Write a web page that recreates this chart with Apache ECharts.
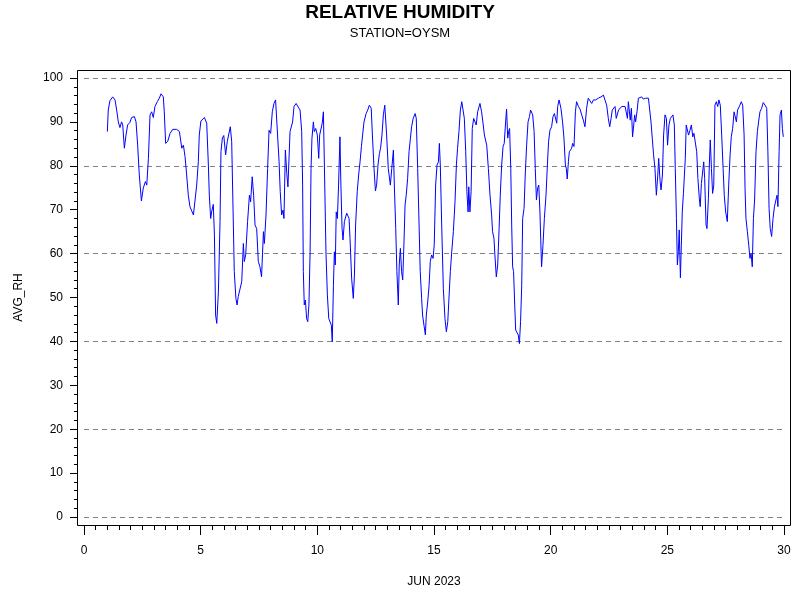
<!DOCTYPE html>
<html>
<head>
<meta charset="utf-8">
<title>RELATIVE HUMIDITY</title>
<script src="https://cdn.jsdelivr.net/npm/echarts@6.0.0/dist/echarts.min.js"></script>
<style>
    html, body { margin: 0; padding: 0; background: #fff; }
    #chart { width: 800px; height: 600px; }
</style>
</head>
<body>
<div id="chart"></div>
<script>
// day of month (June 2023)
var days = [
    1.00, 1.04, 1.11, 1.23, 1.33, 1.40, 1.47, 1.54, 1.61, 1.66, 1.73, 1.80, 1.87, 1.97,
    2.04, 2.16, 2.23, 2.30, 2.37, 2.46, 2.54, 2.63, 2.69, 2.76, 2.83, 2.90, 2.97,
    3.04, 3.14, 3.23, 3.30, 3.40, 3.44, 3.50, 3.59, 3.69, 3.80, 3.97,
    4.09, 4.19, 4.26, 4.33, 4.40, 4.47, 4.54, 4.61, 4.69, 4.76, 4.83, 4.90, 4.94,
    5.01, 5.09, 5.16, 5.26, 5.33, 5.37, 5.43, 5.47, 5.54, 5.59, 5.64, 5.69, 5.76, 5.83, 5.87, 5.93, 5.99,
    6.07, 6.14, 6.19, 6.27, 6.33, 6.39, 6.44, 6.51, 6.56, 6.61, 6.69, 6.76, 6.83, 6.87, 6.93,
    7.01, 7.09, 7.14, 7.21, 7.27, 7.33, 7.40, 7.47, 7.54, 7.61, 7.69, 7.73, 7.80, 7.87, 7.93,
    8.00, 8.07, 8.14, 8.21, 8.29, 8.36, 8.41, 8.47, 8.53, 8.57, 8.63, 8.69, 8.74, 8.83, 8.94,
    9.00, 9.09, 9.17, 9.26, 9.33, 9.37, 9.40, 9.44, 9.49, 9.54, 9.59, 9.64, 9.69, 9.73, 9.77, 9.83, 9.87, 9.93,
    10.00, 10.06, 10.10, 10.17, 10.21, 10.26, 10.31, 10.37, 10.43, 10.49, 10.54, 10.60, 10.64, 10.69, 10.73, 10.77, 10.81, 10.86, 10.91, 10.97,
    11.01, 11.06, 11.10, 11.16, 11.20, 11.26, 11.30, 11.36, 11.40, 11.47, 11.54, 11.59, 11.64, 11.71, 11.77, 11.83, 11.89, 11.94,
    12.00, 12.09, 12.16, 12.23, 12.27, 12.31, 12.36, 12.43, 12.49, 12.54, 12.60, 12.66, 12.71, 12.77, 12.83, 12.89, 12.97,
    13.04, 13.13, 13.19, 13.26, 13.30, 13.36, 13.41, 13.47, 13.51, 13.56, 13.61, 13.66, 13.71, 13.76, 13.81, 13.87, 13.93, 13.99,
    14.04, 14.11, 14.19, 14.24, 14.30, 14.36, 14.41, 14.47, 14.51, 14.57, 14.63, 14.67, 14.73, 14.79, 14.84, 14.90, 14.96,
    15.01, 15.07, 15.13, 15.19, 15.23, 15.27, 15.33, 15.40, 15.47, 15.53, 15.59, 15.64, 15.70, 15.76, 15.83, 15.90, 15.96,
    16.01, 16.07, 16.13, 16.19, 16.26, 16.30, 16.36, 16.41, 16.46, 16.49, 16.54, 16.59, 16.64, 16.70, 16.76, 16.81, 16.87, 16.93, 16.97,
    17.04, 17.11, 17.16, 17.20, 17.26, 17.33, 17.40, 17.47, 17.51, 17.57, 17.61, 17.67, 17.73, 17.79, 17.84, 17.90, 17.96,
    18.01, 18.07, 18.11, 18.16, 18.20, 18.24, 18.29, 18.33, 18.37, 18.41, 18.46, 18.50, 18.56, 18.61, 18.66, 18.71, 18.76, 18.80, 18.86, 18.91, 18.97,
    19.03, 19.09, 19.14, 19.19, 19.23, 19.29, 19.34, 19.39, 19.44, 19.49, 19.54, 19.59, 19.61, 19.67, 19.73, 19.80, 19.86, 19.91, 19.97,
    20.04, 20.10, 20.16, 20.21, 20.26, 20.30, 20.36, 20.40, 20.44, 20.51, 20.57, 20.63, 20.67, 20.71, 20.76, 20.80, 20.86, 20.90, 20.94,
    21.00, 21.06, 21.11, 21.19, 21.26, 21.33, 21.40, 21.47, 21.54, 21.61, 21.69, 21.76, 21.83, 21.93,
    22.04, 22.16, 22.26, 22.33, 22.40, 22.47, 22.53, 22.59, 22.64, 22.70, 22.76, 22.81, 22.87, 22.91, 22.97,
    23.04, 23.11, 23.19, 23.26, 23.29, 23.33, 23.37, 23.41, 23.46, 23.51, 23.56, 23.60, 23.64, 23.70, 23.76, 23.83, 23.90, 23.97,
    24.07, 24.19, 24.24, 24.30, 24.36, 24.41, 24.47, 24.53, 24.59, 24.63, 24.69, 24.73, 24.79, 24.84, 24.90, 24.96,
    25.01, 25.07, 25.13, 25.19, 25.24, 25.30, 25.34, 25.39, 25.43, 25.47, 25.51, 25.56, 25.60, 25.64, 25.69, 25.73, 25.77, 25.81, 25.86, 25.91, 25.97,
    26.03, 26.09, 26.14, 26.20, 26.26, 26.31, 26.37, 26.41, 26.46, 26.51, 26.56, 26.60, 26.66, 26.70, 26.76, 26.80, 26.84, 26.89, 26.94, 26.99,
    27.04, 27.10, 27.16, 27.21, 27.27, 27.33, 27.39, 27.44, 27.50, 27.57, 27.63, 27.69, 27.74, 27.80, 27.86, 27.91, 27.96,
    28.01, 28.07, 28.11, 28.17, 28.23, 28.29, 28.33, 28.37, 28.43, 28.49, 28.54, 28.59, 28.64, 28.69, 28.74, 28.80, 28.86, 28.91, 28.97,
    29.04, 29.11, 29.19, 29.26, 29.31, 29.36, 29.41, 29.47, 29.53, 29.59, 29.64, 29.70, 29.74, 29.79, 29.83, 29.89, 29.93, 29.97
];

// AVG_RH (%) at each of the days above
var avgRh = [
    87.8, 92.7, 94.8, 95.7, 95.0, 92.7, 90.0, 88.7, 90.0, 89.3, 84.0, 87.0, 89.3, 89.9,
    91.0, 91.2, 90.0, 84.7, 77.9, 72.0, 74.9, 76.4, 75.6, 81.7, 91.6, 92.3, 91.0,
    93.5, 94.6, 95.4, 96.4, 95.7, 92.3, 85.1, 85.6, 87.4, 88.3, 88.3,
    87.8, 84.0, 84.7, 82.1, 77.9, 73.3, 70.7, 70.3, 68.8, 69.2, 75.6, 81.0, 87.0,
    90.2, 90.0, 91.0, 89.7, 80.2, 73.3, 68.0, 69.5, 71.2, 64.2, 46.0, 44.1, 51.3, 67.3, 83.2, 86.3, 86.9,
    82.5, 85.5, 85.6, 88.9, 85.5, 69.5, 55.9, 49.8, 48.3, 50.2, 50.6, 53.6, 62.3, 58.2, 59.7,
    67.3, 73.3, 71.8, 77.5, 73.3, 66.5, 65.7, 58.2, 57.0, 54.7, 65.0, 62.3, 68.8, 79.4, 88.1,
    87.4, 92.3, 94.2, 95.0, 95.0, 81.0, 74.1, 68.8, 69.9, 68.0, 83.6, 78.3, 75.2, 87.8, 90.0,
    93.5, 94.2, 93.8, 92.7, 87.8, 75.6, 55.9, 48.3, 49.4, 45.2, 44.5, 48.3, 60.4, 79.4, 86.3, 90.0, 87.8, 88.5,
    87.0, 81.7, 87.0, 87.4, 89.7, 92.3, 77.9, 60.4, 50.6, 45.2, 44.9, 43.7, 39.9, 52.8, 60.4, 57.4, 69.5, 68.0, 75.6, 86.6,
    75.6, 65.7, 63.1, 67.3, 67.6, 69.2, 69.5, 68.0, 63.5, 54.4, 49.8, 55.1, 66.5, 74.1, 77.9, 80.9, 84.4, 87.0,
    90.0, 91.9, 92.7, 93.8, 94.2, 93.1, 87.0, 79.4, 74.3, 75.6, 80.2, 82.8, 84.0, 87.0, 91.6, 93.8, 87.0,
    79.4, 75.6, 79.4, 83.6, 75.6, 65.7, 55.9, 48.3, 57.4, 61.2, 55.9, 54.0, 61.9, 71.1, 73.3, 77.1, 83.2, 86.3,
    88.9, 90.8, 91.9, 90.8, 79.4, 66.5, 55.9, 49.8, 46.0, 43.7, 41.5, 46.0, 49.0, 52.8, 58.2, 59.7, 58.9,
    62.0, 75.6, 80.2, 80.9, 85.1, 80.2, 66.5, 52.1, 45.2, 42.2, 44.5, 44.1, 55.9, 60.4, 65.0, 71.8, 80.2,
    84.0, 87.8, 92.7, 94.6, 95.0, 90.8, 83.2, 74.1, 69.5, 75.2, 69.5, 74.1, 88.5, 90.8, 91.2, 89.3, 92.3, 92.7, 94.2,
    92.3, 89.3, 87.0, 87.4, 84.7, 79.4, 73.3, 68.8, 65.0, 63.5, 59.7, 54.7, 57.4, 65.7, 73.3, 80.2, 84.4,
    85.1, 90.0, 92.9, 86.3, 87.8, 88.5, 79.4, 66.5, 57.0, 55.9, 48.3, 42.6, 42.6, 41.5, 39.5, 44.5, 52.8, 68.0, 70.3, 77.9, 84.7,
    90.0, 91.2, 92.7, 92.9, 91.6, 87.8, 79.4, 72.2, 74.9, 75.6, 69.5, 60.4, 57.0, 61.9, 68.0, 73.3, 80.2, 85.5, 88.1,
    88.9, 91.2, 91.9, 91.9, 89.7, 93.5, 95.0, 95.4, 93.1, 90.0, 86.3, 80.2, 79.4, 77.0, 80.9, 83.2, 83.2, 84.0, 85.1,
    84.4, 92.3, 94.6, 93.5, 92.9, 91.6, 90.4, 88.9, 93.1, 95.4, 95.0, 94.2, 95.0, 95.0,
    95.4, 95.7, 96.1, 95.7, 93.8, 90.8, 88.9, 90.8, 92.7, 92.3, 93.5, 90.8, 90.4, 92.7, 93.1,
    93.5, 93.1, 93.5, 93.1, 90.8, 94.6, 95.0, 90.4, 93.1, 86.6, 89.3, 91.6, 90.0, 92.3, 95.4, 95.4, 95.7, 95.2,
    95.4, 95.4, 95.0, 90.0, 85.9, 82.5, 79.4, 73.3, 77.9, 81.7, 76.4, 74.5, 77.9, 87.0, 91.6, 90.8,
    84.7, 89.3, 90.8, 91.2, 91.6, 89.3, 79.4, 68.0, 57.4, 60.4, 65.4, 54.5, 61.9, 69.5, 73.7, 74.1, 81.7, 89.3, 89.7, 87.0, 88.1,
    89.3, 86.6, 87.4, 87.0, 83.2, 77.1, 72.6, 70.7, 76.0, 76.4, 80.9, 77.1, 66.5, 65.7, 72.6, 80.2, 85.9, 79.4, 73.7, 75.6,
    93.8, 94.6, 93.5, 95.0, 93.8, 87.0, 79.4, 73.3, 69.5, 67.3, 75.6, 82.5, 86.6, 88.5, 92.3, 92.5, 90.0,
    92.7, 92.3, 93.8, 94.6, 93.8, 87.0, 74.9, 68.0, 65.0, 61.9, 58.9, 60.0, 57.0, 68.0, 72.2, 83.2, 87.8, 90.0, 92.3,
    93.1, 94.4, 93.8, 93.1, 83.2, 70.3, 65.7, 63.9, 68.0, 70.7, 71.1, 73.3, 70.7, 83.2, 91.6, 92.7, 88.5, 86.6
];

var xTickMin = 0, xTickMax = 30, xTickStep = 5;
var yTickMin = 0, yTickMax = 100, yTickStep = 10, yGridStep = 20;

var lineData = [];
for (var i = 0; i < days.length; i++) {
    lineData.push([days[i], avgRh[i]]);
}

var font = '"Liberation Sans", Arial, sans-serif';
var black = '#000';

var chart = echarts.init(document.getElementById('chart'), null, {renderer: 'canvas'});
var option = {
    backgroundColor: '#ffffff',
    animation: false,
    textStyle: {fontFamily: font, color: black},
    title: {
        text: 'RELATIVE HUMIDITY',
        subtext: 'STATION=OYSM',
        left: 'center',
        top: -2,
        itemGap: 5,
        textStyle: {fontSize: 19, fontWeight: 'bold', color: black, fontFamily: font},
        subtextStyle: {fontSize: 13, color: black, fontFamily: font}
    },
    grid: {left: 84, right: 16, top: 78, bottom: 83},
    // frame round the plot area, a little larger than the data range
    graphic: [{
        type: 'rect',
        silent: true,
        shape: {x: 77.5, y: 70.5, width: 713, height: 455},
        style: {fill: 'none', stroke: black, lineWidth: 1}
    }],
    xAxis: {
        type: 'value',
        min: xTickMin,
        max: xTickMax,
        interval: xTickStep,
        offset: 9,
        name: 'JUN 2023',
        nameLocation: 'middle',
        nameGap: 50,
        nameTextStyle: {fontSize: 12, color: black, fontFamily: font},
        axisLine: {show: false, onZero: false},
        axisTick: {show: true, inside: false, length: 9, lineStyle: {color: black, width: 1}},
        minorTick: {show: true, splitNumber: 10, length: 4, lineStyle: {color: black, width: 1}},
        axisLabel: {margin: 19, fontSize: 12, color: black, fontFamily: font},
        splitLine: {show: false}
    },
    yAxis: [{
        type: 'value',
        min: yTickMin,
        max: yTickMax,
        interval: yTickStep,
        offset: 7,
        name: 'AVG_RH',
        nameLocation: 'middle',
        nameGap: 52,
        nameTextStyle: {fontSize: 12, color: black, fontFamily: font},
        axisLine: {show: false, onZero: false},
        axisTick: {show: true, inside: false, length: 7, lineStyle: {color: black, width: 1}},
        minorTick: {show: true, splitNumber: 5, length: 3, lineStyle: {color: black, width: 1}},
        axisLabel: {margin: 14, fontSize: 12, color: black, fontFamily: font},
        splitLine: {show: false}
    }, {
        // only for the dashed reference lines every 20
        type: 'value',
        position: 'left',
        min: yTickMin,
        max: yTickMax,
        interval: yGridStep,
        axisLine: {show: false, onZero: false},
        axisTick: {show: false},
        axisLabel: {show: false},
        splitLine: {show: true, lineStyle: {color: '#808080', type: [5, 4], width: 1}}
    }],
    series: [{
        name: 'AVG_RH',
        type: 'line',
        yAxisIndex: 0,
        data: lineData,
        showSymbol: false,
        symbol: 'none',
        lineStyle: {color: '#0000ff', width: 1},
        itemStyle: {color: '#0000ff'},
        z: 3
    }]
};
chart.setOption(option);
</script>
</body>
</html>
